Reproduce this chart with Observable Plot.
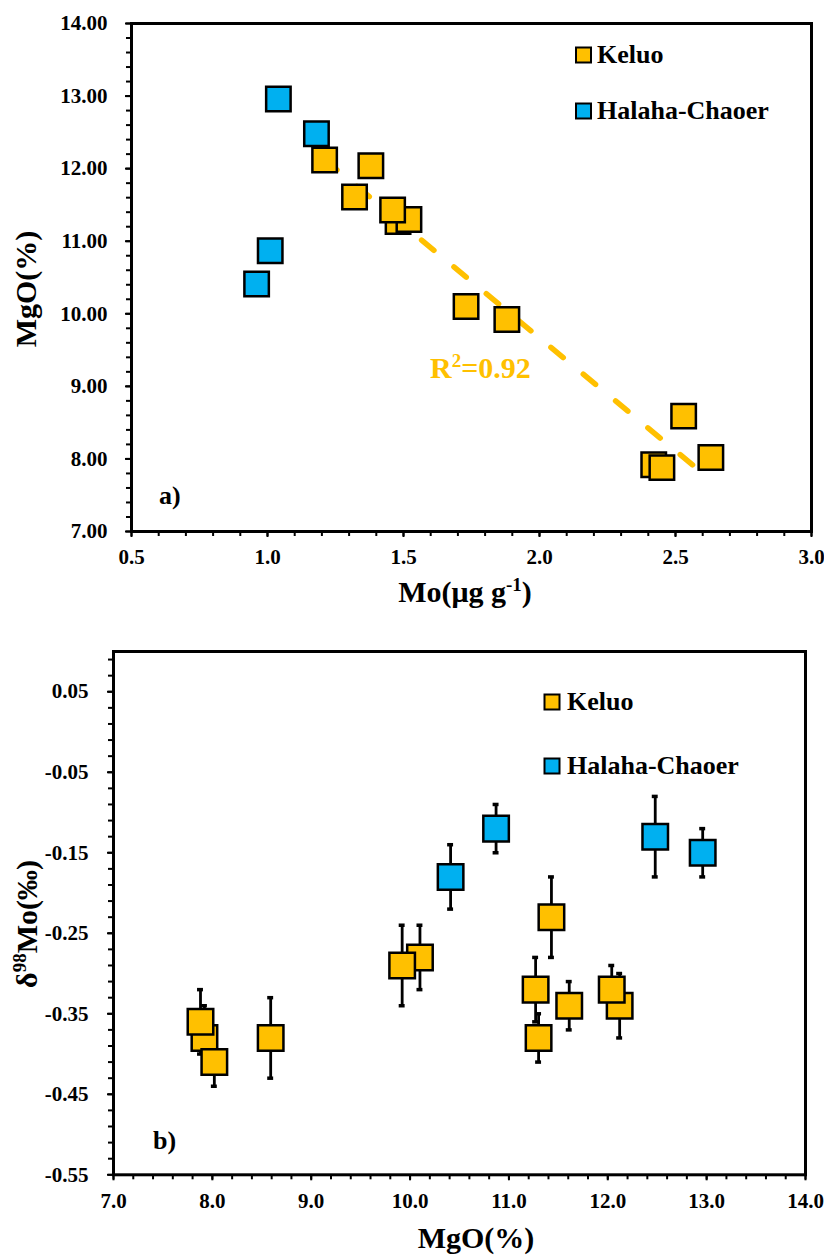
<!DOCTYPE html>
<html>
<head>
<meta charset="utf-8">
<script src="https://cdn.jsdelivr.net/npm/d3@7"></script>
<script src="https://cdn.jsdelivr.net/npm/@observablehq/plot@0.6"></script>
<style>
  body { margin: 0; background: #fff; }
  svg { display: block; }
</style>
</head>
<body>
<div id="chart"></div>
<script>
// Sample groups and their fill colours
const sites = ["Keluo", "Halaha-Chaoer"];
const siteColors = ["#FFC000", "#00B0F0"];

// Keluo samples (MgO %, Mo µg/g, δ98Mo ‰ and its 2SD)
const keluoMgO = [12.12, 12.04, 11.61, 11.27, 11.30, 11.43, 10.10, 9.92, 8.59, 7.92, 8.02, 7.88];
const keluoMo  = [1.21, 1.38, 1.32, 1.48, 1.52, 1.46, 1.73, 1.88, 2.53, 2.42, 2.63, 2.45];
const keluoD98 = [-0.34, -0.32, -0.34, -0.32, -0.38, -0.23, -0.28, -0.29, -0.38, -0.38, -0.41, -0.36];
const keluoErr = [0.04, 0.03, 0.03, 0.04, 0.03, 0.05, 0.04, 0.05, 0.05, 0.04, 0.03, 0.04];

// Halaha-Chaoer samples
const halahaMgO = [12.96, 12.48, 10.87, 10.41];
const halahaMo  = [1.04, 1.18, 1.01, 0.96];
const halahaD98 = [-0.15, -0.13, -0.12, -0.18];
const halahaErr = [0.03, 0.05, 0.03, 0.04];

// Axis ticks
const ticksMoA  = [0.5, 1.0, 1.5, 2.0, 2.5, 3.0];
const ticksMgOA = [7, 8, 9, 10, 11, 12, 13, 14];
const ticksMgOB = [7, 8, 9, 10, 11, 12, 13, 14];
const ticksD98B = [-0.55, -0.45, -0.35, -0.25, -0.15, -0.05, 0.05];
const r2Label = "0.92";

const minorMoA  = d3.range(0, 26).map(i => 0.5 + i * 0.1);
const minorMgOA = d3.range(0, 36).map(i => 7 + i * 0.2);
const minorMgOB = d3.range(0, 36).map(i => 7 + i * 0.2);
const minorD98B = d3.range(0, 33).map(i => -0.55 + i * 0.02);

const rows = (site, mgo, mo, d98, err) =>
  mgo.map((v, i) => ({site, mgo: v, mo: mo[i], d98: d98[i], err: err[i]}));
const samples = [
  ...rows(sites[0], keluoMgO, keluoMo, keluoD98, keluoErr),
  ...rows(sites[1], halahaMgO, halahaMo, halahaD98, halahaErr)
];
const keluo = samples.filter(d => d.site === sites[0]);

const serif = "'Liberation Serif', 'Times New Roman', serif";
const baseStyle = {
  fontFamily: serif, fontSize: "21px", fontWeight: "bold",
  color: "black", background: "white", overflow: "visible"
};
const blank = () => "";

// ---------- a) MgO vs Mo ----------
const svgA = Plot.plot({
  width: 824, height: 620,
  marginTop: 23, marginRight: 13, marginBottom: 89, marginLeft: 131,
  style: baseStyle,
  x: {domain: [0.5, 3.0]},
  y: {domain: [7, 14]},
  color: {domain: sites, range: siteColors},
  marks: [
    Plot.axisX({ticks: minorMoA, tickSize: 5, tickFormat: blank, strokeWidth: 2, label: null}),
    Plot.axisX({ticks: ticksMoA, tickSize: 6, tickPadding: 12, tickFormat: d => d.toFixed(1), strokeWidth: 2, label: null}),
    Plot.axisY({ticks: minorMgOA, tickSize: 5, tickFormat: blank, strokeWidth: 2, label: null}),
    Plot.axisY({ticks: ticksMgOA, tickSize: 6, tickPadding: 18, tickFormat: d => d.toFixed(2), strokeWidth: 2, label: null}),
    Plot.linearRegressionY(keluo, {
      x: "mo", y: "mgo", ci: 0,
      stroke: siteColors[0], strokeWidth: 5.5,
      strokeDasharray: "16,26", strokeLinecap: "round"
    }),
    Plot.dot(samples, {
      x: "mo", y: "mgo", symbol: "square", r: 13.8,
      fill: "site", stroke: "black", strokeWidth: 2.5
    }),
    Plot.frame({stroke: "black", strokeWidth: 3})
  ]
});

// ---------- b) δ98Mo vs MgO ----------
const capHalf = 0.03;
const svgB = Plot.plot({
  width: 824, height: 635,
  marginTop: 31, marginRight: 19, marginBottom: 80.7, marginLeft: 113,
  style: baseStyle,
  x: {domain: [7, 14]},
  y: {domain: [-0.55, 0.10]},
  color: {domain: sites, range: siteColors},
  marks: [
    Plot.axisX({ticks: minorMgOB, tickSize: 5, tickFormat: blank, strokeWidth: 2, label: null}),
    Plot.axisX({ticks: ticksMgOB, tickSize: 6, tickPadding: 12, tickFormat: d => d.toFixed(1), strokeWidth: 2, label: null}),
    Plot.axisY({ticks: minorD98B, tickSize: 5, tickFormat: blank, strokeWidth: 2, label: null}),
    Plot.axisY({ticks: ticksD98B, tickSize: 6, tickPadding: 19, tickFormat: d => d.toFixed(2), strokeWidth: 2, label: null}),
    // error bars
    Plot.ruleX(samples, {x: "mgo", y1: d => d.d98 - d.err, y2: d => d.d98 + d.err, stroke: "black", strokeWidth: 2.8}),
    Plot.ruleY(samples, {y: d => d.d98 + d.err, x1: d => d.mgo - capHalf, x2: d => d.mgo + capHalf, stroke: "black", strokeWidth: 3.5}),
    Plot.ruleY(samples, {y: d => d.d98 - d.err, x1: d => d.mgo - capHalf, x2: d => d.mgo + capHalf, stroke: "black", strokeWidth: 3.5}),
    Plot.dot(samples, {
      x: "mgo", y: "d98", symbol: "square", r: 14.4,
      fill: "site", stroke: "black", strokeWidth: 2.5
    }),
    Plot.frame({stroke: "black", strokeWidth: 3})
  ]
});

// Text with optional superscript parts: parts = [[text, isSup], ...]
function addText(svg, {x, y, rotate = 0, anchor = "middle", size = 30, fill = "black", parts}) {
  const t = d3.select(svg).append("text")
    .attr("transform", `translate(${x},${y}) rotate(${rotate})`)
    .attr("text-anchor", anchor)
    .attr("font-family", serif)
    .attr("font-weight", "bold")
    .attr("font-size", size)
    .attr("fill", fill);
  const supSize = Math.round(size * 0.63);
  const lift = Math.round(size * 0.36);
  let raised = false;
  for (const [str, sup] of parts) {
    const s = t.append("tspan").text(str);
    if (sup && !raised) { s.attr("font-size", supSize).attr("dy", -lift); raised = true; }
    else if (!sup && raised) { s.attr("dy", lift); raised = false; }
    else if (sup) s.attr("font-size", supSize);
  }
}

function addLegend(svg, {x, y0, step, textX}) {
  const g = d3.select(svg).append("g");
  sites.forEach((name, i) => {
    const cy = y0 + i * step;
    g.append("rect")
      .attr("x", x - 7.5).attr("y", cy - 7.5)
      .attr("width", 15).attr("height", 15)
      .attr("fill", siteColors[i]).attr("stroke", "black").attr("stroke-width", 2);
    g.append("text")
      .attr("x", textX).attr("y", cy + 8)
      .attr("text-anchor", "start")
      .attr("font-family", serif).attr("font-weight", "bold").attr("font-size", 26)
      .attr("fill", "black").text(name);
  });
}

// Panel a annotations
addText(svgA, {x: 465, y: 602, parts: [["Mo(μg g", false], ["-1", true], [")", false]]});
addText(svgA, {x: 36, y: 289, rotate: -90, parts: [["MgO(%)", false]]});
addText(svgA, {x: 430, y: 378, anchor: "start", fill: siteColors[0], parts: [["R", false], ["2", true], ["=" + r2Label, false]]});
addText(svgA, {x: 159, y: 504, anchor: "start", size: 26, parts: [["a)", false]]});
addLegend(svgA, {x: 583.5, y0: 55, step: 56, textX: 597});

// Panel b annotations
addText(svgB, {x: 476, y: 628, parts: [["MgO(%)", false]]});
addText(svgB, {x: 37, y: 304, rotate: -90, parts: [["δ", false], ["98", true], ["Mo(‰)", false]]});
addText(svgB, {x: 153, y: 529, anchor: "start", size: 26, parts: [["b)", false]]});
addLegend(svgB, {x: 552, y0: 82, step: 64, textX: 567});

const chart = document.getElementById("chart");
chart.append(svgA, svgB);
</script>
</body>
</html>
